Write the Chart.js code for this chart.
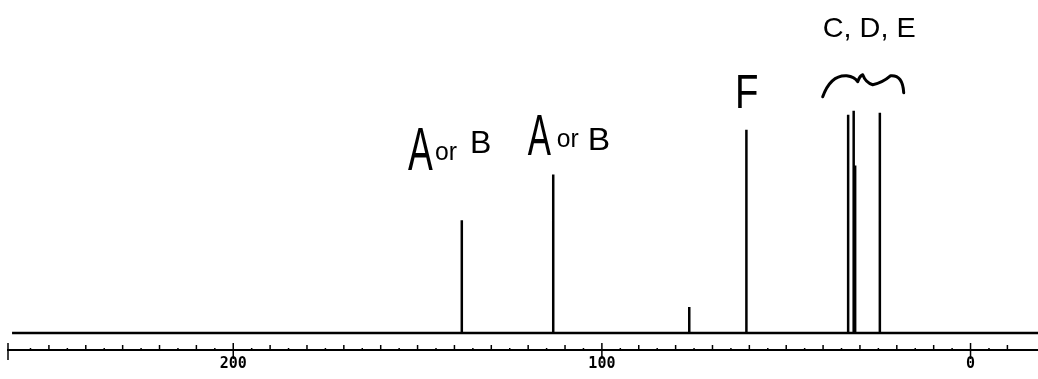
<!DOCTYPE html>
<html>
<head>
<meta charset="utf-8">
<script src="https://cdn.jsdelivr.net/npm/chart.js@4.4.1/dist/chart.umd.min.js"></script>
<style>
  html, body { margin: 0; padding: 0; background: #fff; }
  #wrap { width: 1038px; height: 379px; }
</style>
</head>
<body>
<div id="wrap"><canvas id="nmrChart"></canvas></div>
<script>
// 13C shifts (ppm) and peak heights
const peakShifts  = [138.0, 113.2, 76.3, 60.8, 33.2, 31.7, 31.3, 24.6];
const peakHeights = [113, 159, 26, 204, 219, 223, 168, 221];
const axisLabels  = [200, 100, 0];
const noteTexts   = ['A or B', 'A or B', 'F', 'C, D, E'];

const shiftMin = -18.3, shiftMax = 261.1;

// build the trace: flat baseline with a vertical spike at every shift
const trace = [{ x: 260, y: 0 }];
peakShifts.map((s, i) => [s, peakHeights[i]])
  .sort((a, b) => b[0] - a[0])
  .forEach(([s, h]) => {
    trace.push({ x: s, y: 0 }, { x: s, y: h }, { x: s, y: 0 });
  });
trace.push({ x: shiftMin, y: 0 });

// handwritten notes: anchor (ppm, level) plus how each word is drawn
const noteStyles = [
  { ppm: 152.6, lvl: 164, parts: [[62, 0.6, 0, 0], [26, 0.95, 27, -10], [32, 1, 62, -17]] },
  { ppm: 120.1, lvl: 179, parts: [[58, 0.6, 0, 0], [26, 0.95, 29, -8], [32, 1.05, 60, -5]] },
  { ppm: 63.9,  lvl: 226, parts: [[48, 0.8, 0, 0]] },
  { ppm: 40.1,  lvl: 297, parts: [[28, 1.03, 0, 0]] }
];
const braceAt = { ppm: 40.1, lvl: 237 };

const tickMarks = {
  id: 'tickMarks',
  afterDraw(chart) {
    const xs = chart.scales.x, c = chart.ctx, ay = xs.top;
    c.save();
    c.strokeStyle = '#000';
    c.lineWidth = 1.5;
    xs.ticks.forEach(t => {
      const v = Math.round(t.value * 1000) / 1000;
      if (Math.abs(v % 5) > 1e-6) return;
      const px = xs.getPixelForValue(v);
      let up = 2, down = 0;
      if (Math.abs(v % 100) < 1e-6) { up = 7; down = 9; }
      else if (Math.abs(v % 10) < 1e-6) { up = 5; }
      c.beginPath();
      c.moveTo(px, ay - up);
      c.lineTo(px, ay + down);
      c.stroke();
    });
    // end stop on the left
    c.beginPath();
    c.moveTo(xs.left, ay - 7);
    c.lineTo(xs.left, ay + 10);
    c.stroke();
    c.restore();
  }
};

const notes = {
  id: 'notes',
  afterDatasetsDraw(chart) {
    const xs = chart.scales.x, ys = chart.scales.y, c = chart.ctx;
    c.save();
    c.fillStyle = '#000';
    c.textBaseline = 'alphabetic';
    noteStyles.forEach((n, i) => {
      const words = n.parts.length > 1 ? noteTexts[i].split(' ') : [noteTexts[i]];
      const x0 = xs.getPixelForValue(n.ppm), y0 = ys.getPixelForValue(n.lvl);
      words.forEach((w, k) => {
        const [size, sx, dx, dy] = n.parts[k];
        c.save();
        c.translate(x0 + dx, y0 + dy);
        c.scale(sx, 1);
        c.font = size + 'px "Liberation Sans", Arial, sans-serif';
        c.fillText(w, 0, 0);
        c.restore();
      });
    });
    // the curly brace over C, D, E
    const bx = xs.getPixelForValue(braceAt.ppm), by = ys.getPixelForValue(braceAt.lvl);
    c.strokeStyle = '#000';
    c.lineWidth = 3;
    c.lineCap = 'round';
    c.lineJoin = 'round';
    c.beginPath();
    c.moveTo(bx, by);
    c.quadraticCurveTo(bx + 8, by - 22, bx + 24, by - 21);
    c.quadraticCurveTo(bx + 32, by - 20, bx + 35, by - 15);
    c.quadraticCurveTo(bx + 37, by - 21, bx + 40, by - 22);
    c.quadraticCurveTo(bx + 43, by - 14, bx + 50, by - 12);
    c.quadraticCurveTo(bx + 60, by - 14, bx + 68, by - 21);
    c.quadraticCurveTo(bx + 80, by - 22, bx + 81, by - 4);
    c.stroke();
    c.restore();
  }
};

const ctx = document.getElementById('nmrChart').getContext('2d');
const nmrChart = new Chart(ctx, {
  type: 'line',
  data: {
    datasets: [{
      data: trace,
      borderColor: '#000',
      borderWidth: 2.5,
      pointRadius: 0,
      tension: 0,
      fill: false
    }]
  },
  options: {
    responsive: true,
    maintainAspectRatio: false,
    animation: false,
    layout: { padding: { left: 8, right: 0, top: 0, bottom: 1 } },
    plugins: {
      legend: { display: false },
      tooltip: { enabled: false }
    },
    scales: {
      x: {
        type: 'linear',
        reverse: true,
        min: shiftMin,
        max: shiftMax,
        grid: { display: false, drawTicks: false },
        border: { display: true, color: '#000', width: 2 },
        afterFit: (s) => { s.paddingLeft = 0; s.paddingRight = 0; },
        ticks: {
          stepSize: 5,
          autoSkip: false,
          maxRotation: 0,
          padding: 5,
          color: '#000',
          font: { family: '"DejaVu Sans Mono", monospace', size: 15, weight: 'bold' },
          callback: (v) => {
            const r = Math.round(v * 1000) / 1000;
            return axisLabels.includes(r) ? String(Math.abs(r)) : '';
          }
        }
      },
      y: {
        display: false,
        min: -17,
        max: 334
      }
    }
  },
  plugins: [tickMarks, notes]
});
</script>
</body>
</html>
